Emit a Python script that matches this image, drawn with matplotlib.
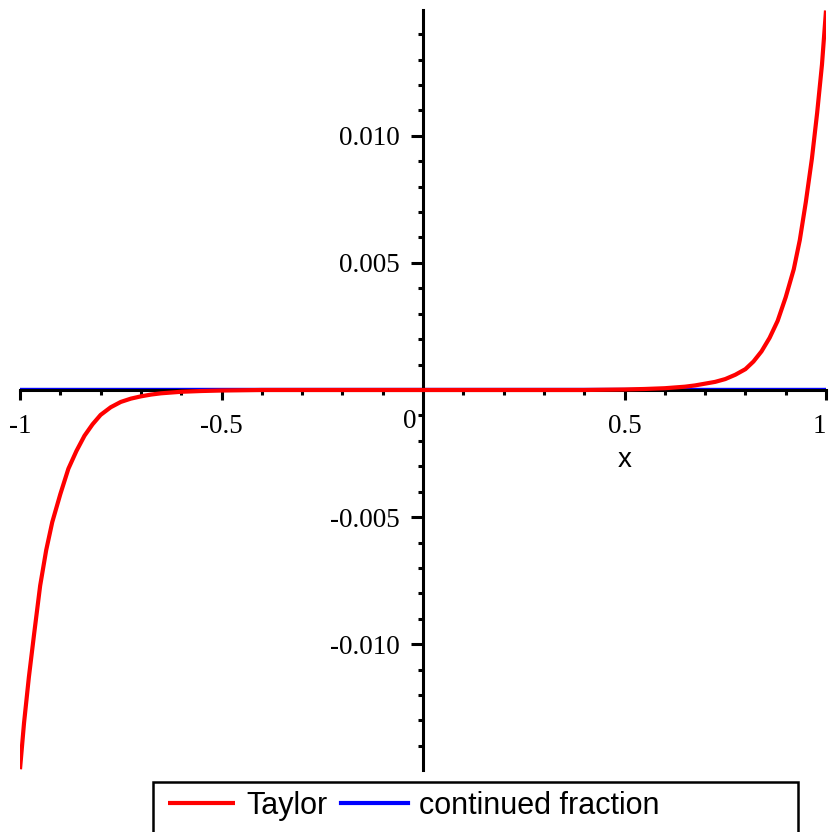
import matplotlib
matplotlib.use("Agg")
import matplotlib.pyplot as plt
import matplotlib.patheffects as pe
from matplotlib.patches import Rectangle
from matplotlib.ticker import FixedLocator

# ---- data ----
x_vals = [-1.0, -0.99, -0.978, -0.965, -0.95, -0.935, -0.92, -0.9, -0.88,
          -0.86, -0.84, -0.82, -0.8, -0.775, -0.75, -0.725, -0.7, -0.675,
          -0.65, -0.625, -0.6, -0.55, -0.5, -0.4, -0.2, 0.0, 0.2, 0.4, 0.5,
          0.55, 0.6, 0.625, 0.65, 0.675, 0.7, 0.725, 0.75, 0.775, 0.8, 0.82,
          0.84, 0.86, 0.88, 0.9, 0.92, 0.935, 0.95, 0.965, 0.978, 0.99, 1.0]
taylor_vals = [-0.01492, -0.0131, -0.0113, -0.0096, -0.0077, -0.0063,
               -0.0052, -0.0041, -0.0031, -0.0024, -0.0018, -0.00135,
               -0.00098, -0.00068, -0.00047, -0.00034, -0.00025, -0.00018,
               -0.00013, -0.0001, -0.00007, -0.00004, -0.00002, 0.0, 0.0,
               0.0, 0.0, 0.0, 0.00002, 0.00004, 0.00007, 0.0001, 0.00013,
               0.00018, 0.00025, 0.00032, 0.00043, 0.0006, 0.00082, 0.00112,
               0.00152, 0.00205, 0.00272, 0.00365, 0.00475, 0.0059, 0.0074,
               0.0091, 0.0109, 0.0128, 0.01493]
cf_x = [-1.0, 1.0]
cf_vals = [0.0, 0.0]

x_ticks = [-1, -0.5, 0.5, 1]
x_ticklabels = ["-1", "-0.5", "0.5", "1"]
y_ticks = [-0.010, -0.005, 0.005, 0.010]
y_ticklabels = ["-0.010", "-0.005", "0.005", "0.010"]
series_labels = ["Taylor", "continued fraction"]

W, H = 830, 832
fig = plt.figure(figsize=(W / 100, H / 100), dpi=100)
ax = fig.add_axes([20 / W, 1 - 770 / H, 806 / W, 760 / H])
ax.set_xlim(-1, 1)
ax.set_ylim(-0.01495, 0.01495)

l_red, = ax.plot(x_vals, taylor_vals, color="#ff0000", lw=3.0, zorder=4,
                 solid_capstyle="butt", solid_joinstyle="round")
l_blue, = ax.plot(cf_x, cf_vals, color="#0000ff", lw=1.0, zorder=2.5,
                  path_effects=[pe.Stroke(offset=(0, 1.5))])

for s in ["top", "right"]:
    ax.spines[s].set_visible(False)
ax.spines["left"].set_position(("data", 0))
ax.spines["bottom"].set_position(("data", 0))
for s in ["left", "bottom"]:
    ax.spines[s].set_linewidth(2.2)
    ax.spines[s].set_zorder(3)

serif = "Liberation Serif"
ax.set_xticks(x_ticks, labels=x_ticklabels)
ax.set_yticks(y_ticks, labels=y_ticklabels)
ax.xaxis.set_minor_locator(FixedLocator([-0.9, -0.8, -0.7, -0.6, -0.4, -0.3, -0.2, -0.1,
                                         0.1, 0.2, 0.3, 0.4, 0.6, 0.7, 0.8, 0.9]))
ax.yaxis.set_minor_locator(FixedLocator([v / 1000 for v in range(-14, 15)
                                         if v % 5 != 0]))
ax.tick_params(axis="x", which="major", direction="out", length=7.5, width=2.2,
               pad=10, labelsize=19.5)
ax.tick_params(axis="y", which="major", direction="out", length=8.5, width=2.2,
               pad=8, labelsize=19.5)
ax.tick_params(which="minor", direction="out", length=3.6, width=2.2)
for lab in ax.get_xticklabels() + ax.get_yticklabels():
    lab.set_fontfamily(serif)
xlabs = ax.get_xticklabels()
xlabs[-1].set_horizontalalignment("right")

ax.annotate("0", xy=(0, 0), xytext=(-13, -31), textcoords="offset pixels",
            ha="center", va="center", fontsize=19.5, family=serif)

sans = ["Liberation Sans Narrow", "Liberation Sans", "DejaVu Sans"]
ax.set_xlabel("x", fontsize=20, family=sans)
ax.xaxis.set_label_coords((625 - 20) / 806, (770 - 460) / 760)
ax.xaxis.label.set_va("center")

leg = fig.legend([l_red, l_blue], series_labels, loc="center left",
                 bbox_to_anchor=(168 / W, 1 - 806 / H), ncol=2, frameon=False,
                 borderpad=0, borderaxespad=0, handlelength=2.2,
                 handletextpad=0.35, columnspacing=0.45,
                 prop={"family": sans, "size": 22})
for ln in leg.get_lines():
    ln.set_linewidth(3.0)
    ln.set_path_effects([])

fig.patches.append(Rectangle((153 / W, 1 - 845 / H), 645 / W, (845 - 782) / H,
                             transform=fig.transFigure, fill=False,
                             edgecolor="black", lw=1.8, clip_on=False))

fig.savefig("out.png", dpi=100)
